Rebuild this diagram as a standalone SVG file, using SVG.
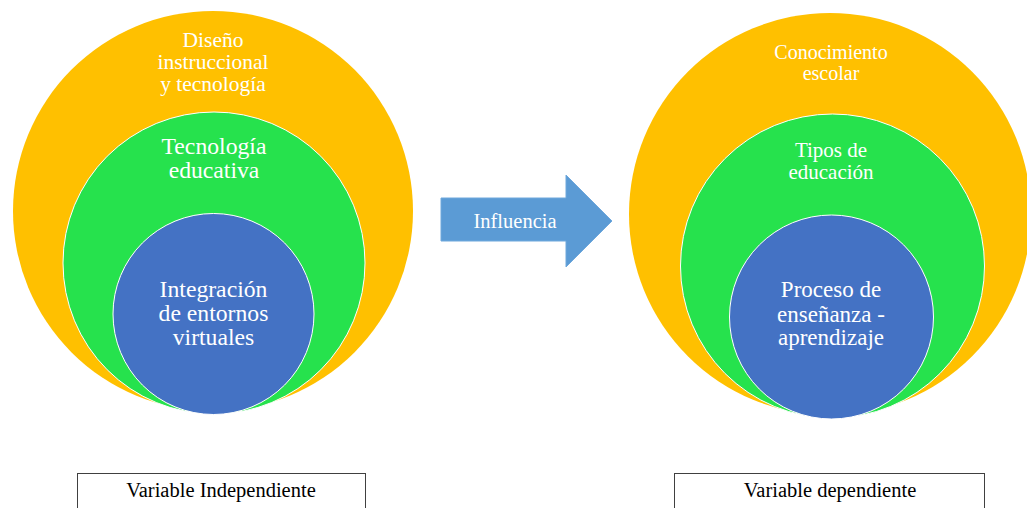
<svg xmlns="http://www.w3.org/2000/svg" width="1027" height="508" viewBox="0 0 1027 508">
  <style>
    .outer { fill: #FFC000; }
    .middle { fill: #26E24D; stroke: #FFFFFF; stroke-width: 1; }
    .inner { fill: #4472C4; stroke: #FFFFFF; stroke-width: 1; }
    .lbl { font-family: "Liberation Serif", "Times New Roman", serif; fill: #FFFFFF; text-anchor: middle; }
    .cap { font-family: "Liberation Serif", "Times New Roman", serif; fill: #000000; text-anchor: middle; font-size: 20.5px; }
    .box { fill: #FFFFFF; stroke: #404040; stroke-width: 1; }
  </style>
  <rect width="1027" height="508" fill="#FFFFFF"/>

  <!-- Independent variable: nested circles -->
  <g id="left-outer">
    <circle class="outer" cx="213" cy="211" r="200"/>
    <text class="lbl" font-size="21.5" x="213" y="47">Diseño</text>
    <text class="lbl" font-size="21.5" x="213" y="69">instruccional</text>
    <text class="lbl" font-size="21.5" x="213" y="91">y tecnología</text>
  </g>
  <g id="left-middle">
    <circle class="middle" cx="214" cy="263" r="151"/>
    <text class="lbl" font-size="23.7" x="214" y="154">Tecnología</text>
    <text class="lbl" font-size="23.7" x="214" y="178">educativa</text>
  </g>
  <g id="left-inner">
    <circle class="inner" cx="213.5" cy="314" r="100.5"/>
    <text class="lbl" font-size="23.7" x="213.5" y="297">Integración</text>
    <text class="lbl" font-size="23.7" x="213.5" y="321">de entornos</text>
    <text class="lbl" font-size="23.7" x="213.5" y="345">virtuales</text>
  </g>

  <!-- Dependent variable: nested circles -->
  <g id="right-outer">
    <circle class="outer" cx="830" cy="214" r="201"/>
    <text class="lbl" font-size="20" x="831" y="59">Conocimiento</text>
    <text class="lbl" font-size="20" x="831" y="80">escolar</text>
  </g>
  <g id="right-middle">
    <circle class="middle" cx="832.5" cy="266" r="152"/>
    <text class="lbl" font-size="21" x="831" y="157">Tipos de</text>
    <text class="lbl" font-size="21" x="831" y="179">educación</text>
  </g>
  <g id="right-inner">
    <circle class="inner" cx="831.5" cy="317" r="102"/>
    <text class="lbl" font-size="23" x="831" y="297">Proceso de</text>
    <text class="lbl" font-size="23" x="831" y="322">enseñanza  -</text>
    <text class="lbl" font-size="23" x="831" y="345">aprendizaje</text>
  </g>

  <!-- Connector between the two variables -->
  <g id="connectors">
    <g id="influence-arrow">
      <polygon points="441,198 566,198 566,175 612,221 566,267 566,241 441,241" fill="#5B9BD5" stroke="#6FA8DC" stroke-width="1"/>
      <text class="lbl" font-size="20.5" x="515" y="228">Influencia</text>
    </g>
  </g>

  <!-- Captions -->
  <g id="caption-independent">
    <rect class="box" x="77.5" y="473.5" width="288" height="40"/>
    <text class="cap" x="221" y="497">Variable Independiente</text>
  </g>
  <g id="caption-dependent">
    <rect class="box" x="674.5" y="473.5" width="310" height="40"/>
    <text class="cap" x="830" y="497">Variable dependiente</text>
  </g>
</svg>
